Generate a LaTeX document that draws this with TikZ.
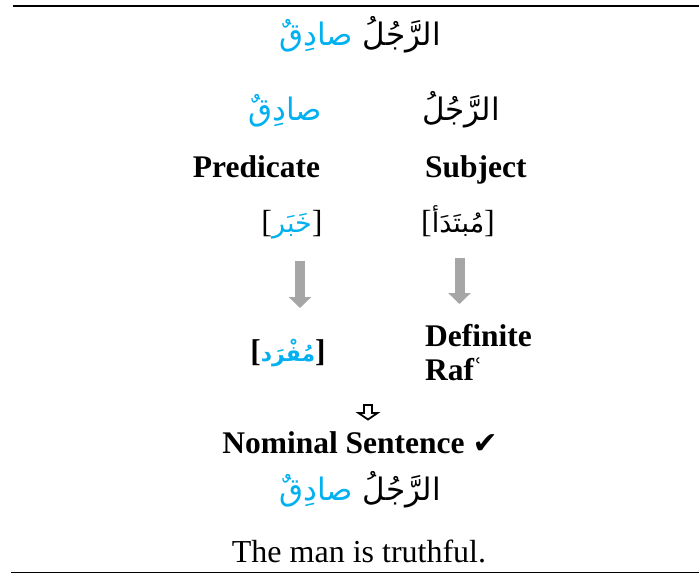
\documentclass[tikz,border=0pt]{standalone}
\usepackage{fontspec}
\setmainfont{Liberation Serif}
\newfontfamily\arabicfont[Script=Arabic]{DejaVu Sans}
\newfontfamily\symfont{DejaVu Sans}
\TeXXeTstate=1
\usetikzlibrary{arrows.meta}
\definecolor{arcyan}{HTML}{00B0F0}
\definecolor{arrowgray}{HTML}{A6A6A6}
\newcommand{\arsize}{\fontsize{31}{38}\selectfont}
\tikzset{
  lat/.style={inner sep=0pt, font=\fontsize{32}{38}\selectfont},
  latb/.style={inner sep=0pt, font=\fontsize{31.5}{38}\selectfont\bfseries},
  arb/.style={inner sep=0pt, font=\arsize\arabicfont},
  grayarrow/.style={draw=arrowgray, line width=10pt, -{Triangle[width=22pt,length=11pt]}},
  hollowarrow/.style={draw=black, line width=1.8pt, fill=white, line join=miter},
  rule/.style={draw=black}
}
\begin{document}
\begin{tikzpicture}[x=1pt,y=-1pt]
\useasboundingbox (0,0) rectangle (699,573);
% rules
\coordinate (tl) at (13,5.5);
\coordinate (tr) at (699,5.5);
\coordinate (bl) at (11,572);
\coordinate (br) at (699,572);
\draw[rule, line width=2pt] (tl) -- (tr);
\draw[rule, line width=1pt] (bl) -- (br);
% top sentence
\node[arb, anchor=base] (top) at (360,45) {{\color{arcyan}\beginR صادِقٌ\endR} \beginR الرَّجُلُ\endR};
% split words
\node[arb, anchor=base, text=arcyan] (sadiq) at (285,120) {\beginR صادِقٌ\endR};
\node[arb, anchor=base] (rajul) at (461,120) {\beginR الرَّجُلُ\endR};
% labels
\node[latb, anchor=base] (pred) at (256.5,177) {Predicate};
\node[latb, anchor=base west] (subj) at (425,177) {Subject};
% bracketed terms
\node[lat, anchor=base] (khabar) at (292,232) {[{\fontsize{27}{34}\selectfont\arabicfont\color{arcyan}\beginR خَبَر\endR}]};
\node[lat, anchor=base] (mubtada) at (458,232) {[{\fontsize{27}{34}\selectfont\arabicfont\beginR مُبتَدَأ\endR}]};
% gray arrows
\coordinate (ga1s) at (300,261);
\coordinate (ga1e) at (300,308);
\coordinate (ga2s) at (459.5,258);
\coordinate (ga2e) at (459.5,304);
\draw[grayarrow] (ga1s) -- (ga1e);
\draw[grayarrow] (ga2s) -- (ga2e);
% results
\node[latb, anchor=base] (mufrad) at (288,361) {[{\fontsize{22}{30}\selectfont\arabicfont\bfseries\color{arcyan}\beginR مُفْرَد\endR}]};
\node[latb, anchor=base west] (definite) at (425,346) {Definite};
\node[latb, anchor=base west] (raf) at (425,380) {Raf\kern-1.5ptʿ};
% hollow arrow
\draw[hollowarrow] (364,405) -- (372,405) -- (372,413) -- (377.5,413) -- (368,419.5) -- (358.5,413) -- (364,413) -- cycle;
% nominal sentence
\node[latb, anchor=base] (nominal) at (360,453) {Nominal Sentence {\fontsize{30}{34}\selectfont\symfont ✔}};
\node[arb, anchor=base] (bottom) at (360,500) {{\color{arcyan}\beginR صادِقٌ\endR} \beginR الرَّجُلُ\endR};
\node[lat, anchor=base] (trans) at (359,562) {The man is truthful.};
\end{tikzpicture}
\end{document}
